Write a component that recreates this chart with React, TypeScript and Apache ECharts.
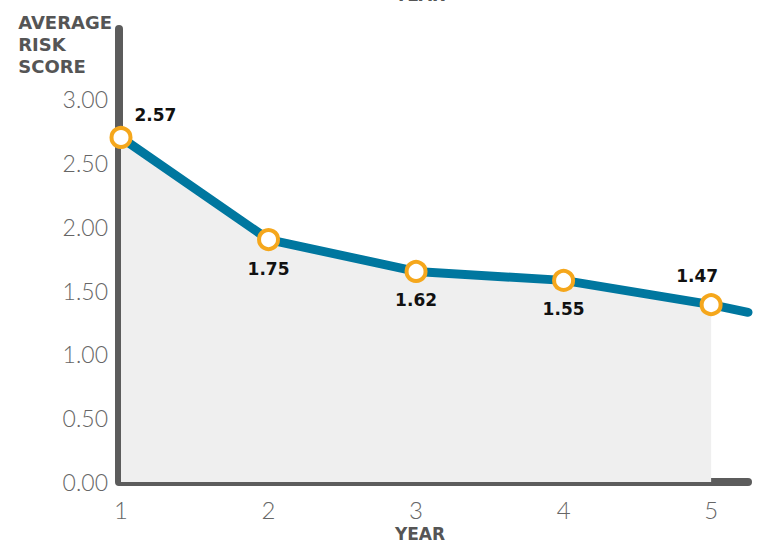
import React, { useEffect, useRef } from "react";
import * as echarts from "echarts";

const years = [1, 2, 3, 4, 5];
const plotted = [2.7, 1.9, 1.65, 1.58, 1.39];
const labelTexts = ["2.57", "1.75", "1.62", "1.55", "1.47"];
const tailPoint = [5.25, 1.33];
const labelPositions = ["right", "bottom", "bottom", "bottom", "top"];

export default function App() {
  const ref = useRef<HTMLDivElement>(null);
  useEffect(() => {
    const chart = echarts.init(ref.current!, null, { renderer: "svg" });
    const lineData: any[] = years.map((x, i) => ({
      value: [x, plotted[i]],
      label: {
        show: true,
        formatter: labelTexts[i],
        position: labelPositions[i],
        distance: i === 0 ? 4 : 9,
        offset: i === 0 ? [-2, -22] : i === 4 ? [-14, 0] : [0, 0],
      },
    }));
    lineData.push({ value: tailPoint, symbol: "none", label: { show: false } });
    chart.setOption({
      animation: false,
      grid: { left: 121, right: 10, top: 29, bottom: 62 },
      xAxis: {
        type: "value",
        min: 1,
        max: 5.25,
        interval: 1,
        offset: 5,
        axisLine: { show: true, lineStyle: { color: "#5c5c5c", width: 8, cap: "round" } },
        axisTick: { show: false },
        splitLine: { show: false },
        axisLabel: {
          color: "#666",
          fontSize: 24,
          fontFamily: "Lato",
          fontWeight: 300,
          margin: 10,
          formatter: (v: number) => (Number.isInteger(v) ? String(v) : ""),
        },
      },
      yAxis: {
        type: "value",
        min: 0,
        max: 3.55,
        interval: 0.5,
        offset: 2,
        axisLine: { show: true, lineStyle: { color: "#5c5c5c", width: 8, cap: "round" } },
        axisTick: { show: false },
        splitLine: { show: false },
        axisLabel: {
          color: "#666",
          fontSize: 23,
          fontFamily: "Lato",
          fontWeight: 300,
          margin: 11,
          formatter: (v: number) => (v <= 3.0001 ? v.toFixed(2) : ""),
        },
      },
      series: [
        {
          type: "line",
          data: years.map((x, i) => [x, plotted[i]]),
          symbol: "none",
          lineStyle: { width: 0 },
          areaStyle: { color: "#efefef", opacity: 1 },
          silent: true,
          z: 1,
        },
        {
          type: "line",
          data: lineData,
          symbol: "circle",
          symbolSize: 19,
          lineStyle: { color: "#00779f", width: 9, cap: "round", join: "round" },
          itemStyle: { color: "#ffffff", borderColor: "#f5a71c", borderWidth: 4 },
          label: {
            color: "#111",
            fontSize: 17,
            fontWeight: "bold",
            fontFamily: "DejaVu Sans",
          },
          z: 3,
        },
      ],
      graphic: [
        {
          type: "text",
          right: 758 - 112,
          top: 11,
          style: {
            text: "AVERAGE\nRISK\nSCORE",
            align: "right",
            fill: "#555",
            font: "bold 18px 'DejaVu Sans'",
            lineHeight: 22,
          },
        },
        {
          type: "text",
          x: 420,
          y: 534,
          style: {
            text: "YEAR",
            align: "center",
            verticalAlign: "middle",
            fill: "#555",
            font: "bold 17px 'DejaVu Sans'",
          },
        },
        {
          type: "text",
          x: 420,
          y: -5,
          style: {
            text: "YEAR",
            align: "center",
            verticalAlign: "middle",
            fill: "#555",
            font: "bold 17px 'DejaVu Sans'",
          },
        },
      ],
    });
    return () => chart.dispose();
  }, []);
  return <div ref={ref} style={{ width: 758, height: 544, position: "absolute", left: 0, top: 0 }} />;
}
